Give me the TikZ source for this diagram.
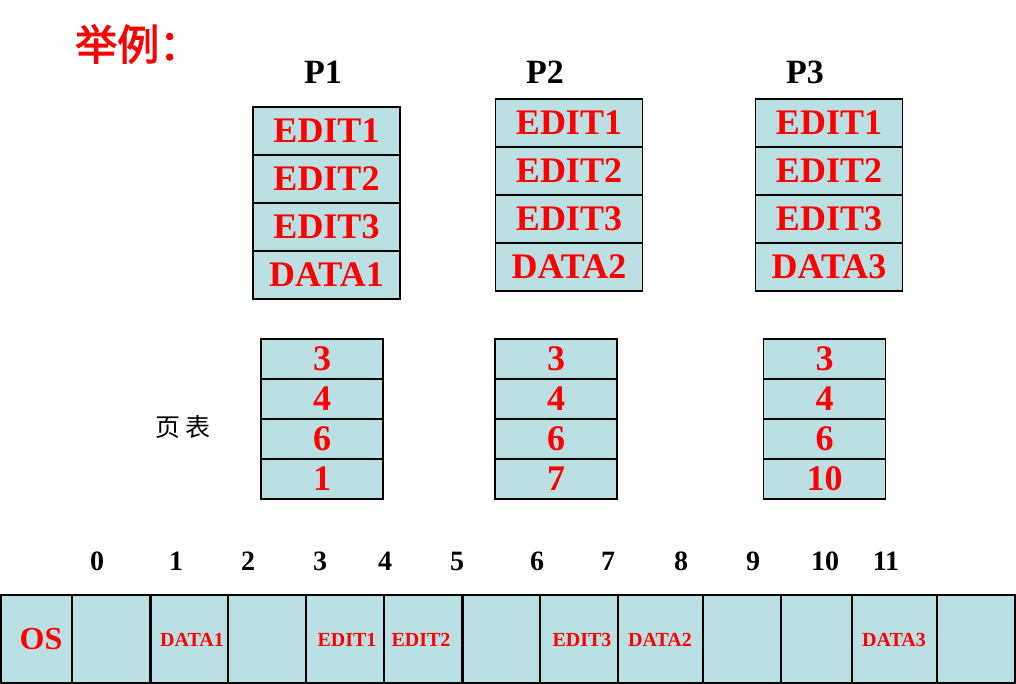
\documentclass[tikz,border=0pt]{standalone}
\usepackage{fontspec}
\setmainfont{Liberation Serif}
\newfontfamily\cjk{Noto Sans CJK SC}
\newfontfamily\cjkb[FakeBold=2.5]{Noto Sans CJK SC}
\definecolor{cellfill}{RGB}{187,224,227}
\definecolor{tred}{RGB}{255,0,0}
\begin{document}
\begin{tikzpicture}[x=1pt,y=-1pt,
  seg/.style={draw=black,line width=1.1pt,fill=cellfill,inner sep=0pt,minimum width=147pt,minimum height=48pt,
    font=\fontsize{36}{36}\selectfont\bfseries,text=tred},
  pt/.style={draw=black,line width=1.1pt,fill=cellfill,inner sep=0pt,minimum width=122pt,minimum height=40pt,
    font=\fontsize{36}{36}\selectfont\bfseries,text=tred},
  mem/.style={draw=black,line width=1.1pt,fill=cellfill,inner sep=0pt,minimum height=88pt},
  memlab/.style={text=tred,font=\fontsize{20}{20}\selectfont\bfseries},
  plab/.style={font=\fontsize{34}{34}\selectfont\bfseries,text=black},
  num/.style={font=\fontsize{28}{28}\selectfont\bfseries,text=black,anchor=center}]
\useasboundingbox (0,0) rectangle (1016,684);
% title
\node[font=\cjkb\fontsize{42}{42}\selectfont,text=tred,anchor=west,inner sep=0pt] (title) at (75,44) {举例：};
% process labels
\node[plab] (P1) at (323,72) {P1};
\node[plab] (P2) at (545,72) {P2};
\node[plab] (P3) at (805,72) {P3};
% P1 segments
\node[seg] (a1) at (326.5,131) {EDIT1};
\node[seg] (a2) at (326.5,179) {EDIT2};
\node[seg] (a3) at (326.5,227) {EDIT3};
\node[seg] (a4) at (326.5,275) {DATA1};
% P2 segments
\node[seg] (b1) at (569,123) {EDIT1};
\node[seg] (b2) at (569,171) {EDIT2};
\node[seg] (b3) at (569,219) {EDIT3};
\node[seg] (b4) at (569,267) {DATA2};
% P3 segments
\node[seg] (c1) at (829,123) {EDIT1};
\node[seg] (c2) at (829,171) {EDIT2};
\node[seg] (c3) at (829,219) {EDIT3};
\node[seg] (c4) at (829,267) {DATA3};
% page tables
\node[pt] (t11) at (322,359) {3};
\node[pt] (t12) at (322,399) {4};
\node[pt] (t13) at (322,439) {6};
\node[pt] (t14) at (322,479) {1};
\node[pt] (t21) at (556,359) {3};
\node[pt] (t22) at (556,399) {4};
\node[pt] (t23) at (556,439) {6};
\node[pt] (t24) at (556,479) {7};
\node[pt] (t31) at (824.5,359) {3};
\node[pt] (t32) at (824.5,399) {4};
\node[pt] (t33) at (824.5,439) {6};
\node[pt] (t34) at (824.5,479) {10};
\node[font=\cjk\fontsize{25}{25}\selectfont] (pglab) at (183,427) {页\,表};
% frame numbers
\node[num] (n0) at (97,561) {0};
\node[num] (n1) at (176,561) {1};
\node[num] (n2) at (248,561) {2};
\node[num] (n3) at (320,561) {3};
\node[num] (n4) at (385,561) {4};
\node[num] (n5) at (457,561) {5};
\node[num] (n6) at (537,561) {6};
\node[num] (n7) at (608,561) {7};
\node[num] (n8) at (681,561) {8};
\node[num] (n9) at (753,561) {9};
\node[num] (n10) at (825,561) {10};
\node[num] (n11) at (886,561) {11};
% memory strip
\node[mem,minimum width=71pt] (m0) at (36.5,639) {};
\node[mem,minimum width=78pt] (m1) at (111,639) {};
\node[mem,minimum width=78pt] (m2) at (189,639) {};
\node[mem,minimum width=78pt] (m3) at (267,639) {};
\node[mem,minimum width=78pt] (m4) at (345,639) {};
\node[mem,minimum width=78pt] (m5) at (423,639) {};
\node[mem,minimum width=78pt] (m6) at (501,639) {};
\node[mem,minimum width=78pt] (m7) at (579,639) {};
\node[mem,minimum width=85pt] (m8) at (660.5,639) {};
\node[mem,minimum width=78pt] (m9) at (742,639) {};
\node[mem,minimum width=71pt] (m10) at (816.5,639) {};
\node[mem,minimum width=85pt] (m11) at (894.5,639) {};
\node[mem,minimum width=78pt] (m12) at (976,639) {};
\draw[line width=2pt] (m1.north east) -- (m1.south east);
\draw[line width=2pt] (m5.north east) -- (m5.south east);
% memory labels
\node[text=tred,font=\fontsize{32}{32}\selectfont\bfseries] (os) at (41,639) {OS};
\node[memlab] (l1) at (192,640) {DATA1};
\node[memlab] (l2) at (347,640) {EDIT1};
\node[memlab] (l3) at (421,640) {EDIT2};
\node[memlab] (l4) at (582,640) {EDIT3};
\node[memlab] (l5) at (660,640) {DATA2};
\node[memlab] (l6) at (894,640) {DATA3};
\end{tikzpicture}
\end{document}
